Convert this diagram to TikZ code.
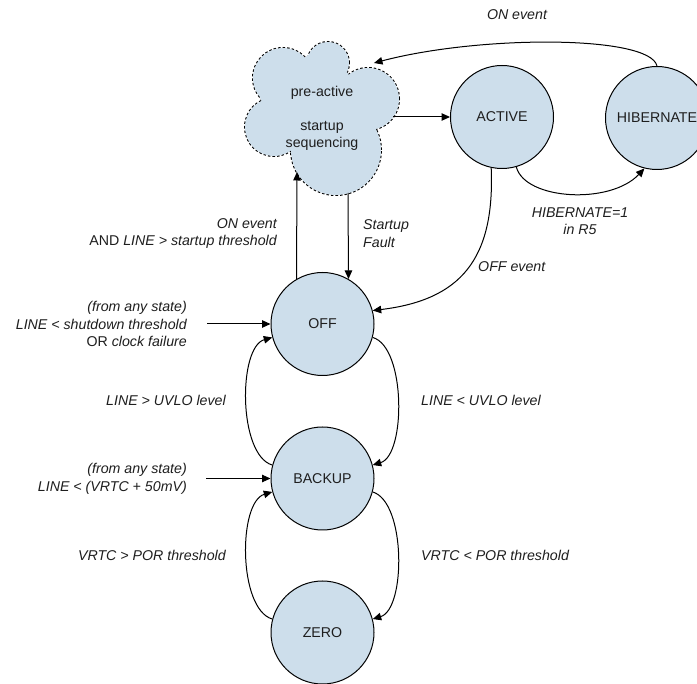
\documentclass[tikz,border=0pt]{standalone}
\usepackage{fontspec}
\setmainfont{Liberation Sans}
\usetikzlibrary{arrows.meta}
\definecolor{stfill}{RGB}{205,222,235}
\definecolor{txt}{RGB}{30,30,30}
\begin{document}
\begin{tikzpicture}[x=1pt,y=1pt,
  every node/.style={font=\fontsize{14.2}{17.5}\selectfont, text=txt, inner sep=0pt},
  state/.style={circle, draw, line width=1pt, fill=stfill, minimum size=103pt},
  arr/.style={-{Triangle[length=8.5pt,width=7.5pt]}, line width=1pt},
  lbl/.style={font=\fontsize{14.2}{17.5}\selectfont\itshape},
  puff/.style={line width=2pt, dash pattern=on 2.5pt off 2pt},
]
\useasboundingbox (0,0) rectangle (697,-684);

% cloud (pre-active): dashed outlines first, then the fill covers their inner halves
\foreach \cx/\cy/\r in {283/-78/30, 328/-63/21, 368/-99/31, 336/-150/45, 274/-127/29}{
  \draw[puff] (\cx,\cy) circle[radius=\r];
}
\foreach \cx/\cy/\r in {283/-78/30, 328/-63/21, 368/-99/31, 336/-150/45, 274/-127/29}{
  \fill[stfill] (\cx,\cy) circle[radius=\r];
}
\fill[stfill] (260,-98) -- (308,-55) -- (348,-73) -- (367,-130) -- (295,-157) -- cycle;

\node (pre) at (322,-93) {pre-active};
\node[align=center] (seq) at (322,-136) {startup\\sequencing};

% states
\node[state] (active) at (502,-117) {ACTIVE};
\node[state] (hib) at (657,-118) {HIBERNATE};
\node[state] (off) at (322.5,-324) {OFF};
\node[state] (backup) at (322.5,-478.5) {BACKUP};
\node[state] (zero) at (322.5,-632.5) {ZERO};

% free ends
\coordinate (cTop) at (374,-63);
\coordinate (cRight) at (393,-117);
\coordinate (cIn) at (297,-172);
\coordinate (cOut) at (348,-193);
\coordinate (offSrc) at (207,-324);
\coordinate (bakSrc) at (206,-478.5);

% connectors
\draw[arr] (hib.north) .. controls (650,-35) and (480,-35) .. (cTop);
\draw[arr] (cRight) -- (active.west);
\draw[arr] (active.258) .. controls (495,-260) and (460,-300) .. (off.15);
\draw[arr] (active.-74) .. controls (525,-200) and (610,-205) .. (hib.-104);
\draw[arr] (off.120) -- (cIn);
\draw[arr] (cOut) -- (off.60);
\draw[arr] (offSrc) -- (off.west);
\draw[arr] (bakSrc) -- (backup.west);
\draw[arr] (off.-15) .. controls (406,-347) and (406,-455) .. (backup.15);
\draw[arr] (backup.165) .. controls (238,-455) and (238,-347) .. (off.195);
\draw[arr] (backup.-15) .. controls (406,-502) and (406,-609) .. (zero.15);
\draw[arr] (zero.165) .. controls (238,-609) and (238,-502) .. (backup.195);

% labels
\node[lbl] (lOnTop) at (517,-15) {ON event};
\node[lbl, anchor=east, align=right] (lOn) at (277,-233.5) {ON event\\{\upshape AND} LINE > startup threshold};
\node[lbl, anchor=west, align=left] (lFault) at (363,-233.5) {Startup\\Fault};
\node[lbl, anchor=west] (lOffEv) at (478,-267) {OFF event};
\node[lbl, align=center] (lHib) at (580,-221) {HIBERNATE=1\\in R5};
\node[lbl, anchor=east, align=right] (lOffIn) at (187,-324) {(from any state)\\LINE < shutdown threshold\\{\upshape OR} clock failure};
\node[lbl, anchor=east] (lUp1) at (226,-400) {LINE > UVLO level};
\node[lbl, anchor=west] (lDn1) at (421,-400) {LINE < UVLO level};
\node[lbl, anchor=east, align=right] (lBakIn) at (187,-479) {(from any state)\\LINE < (VRTC + 50mV)};
\node[lbl, anchor=east] (lUp2) at (226,-555) {VRTC > POR threshold};
\node[lbl, anchor=west] (lDn2) at (421,-555) {VRTC < POR threshold};
\end{tikzpicture}
\end{document}
